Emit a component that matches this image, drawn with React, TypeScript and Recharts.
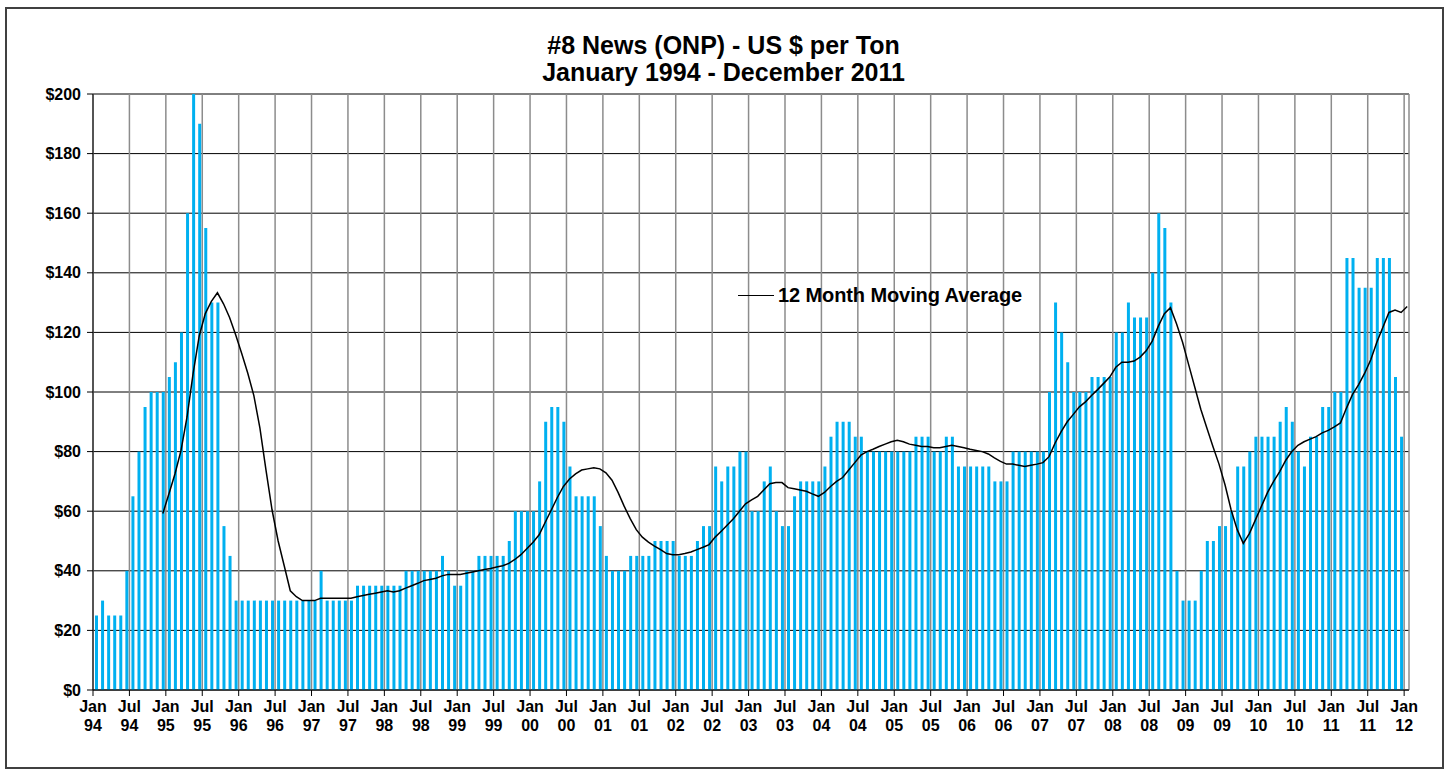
import React from 'react';
import { ComposedChart, Bar, Line, XAxis, YAxis, CartesianGrid } from 'recharts';

const FONT = '"Liberation Sans", Arial, sans-serif';

const months = ['Jan', 'Feb', 'Mar', 'Apr', 'May', 'Jun', 'Jul', 'Aug', 'Sep', 'Oct', 'Nov', 'Dec'];
const years = ['94', '95', '96', '97', '98', '99', '00', '01', '02', '03', '04', '05', '06', '07', '08', '09', '10', '11'];

// monthly price, US $ per ton
const price94 = [25, 30, 25, 25, 25, 40, 65, 80, 95, 100, 100, 100];
const price95 = [105, 110, 120, 160, 200, 190, 155, 130, 130, 55, 45, 30];
const price96 = [30, 30, 30, 30, 30, 30, 30, 30, 30, 30, 30, 30];
const price97 = [30, 40, 30, 30, 30, 30, 30, 35, 35, 35, 35, 35];
const price98 = [35, 35, 35, 40, 40, 40, 40, 40, 40, 45, 40, 35];
const price99 = [35, 40, 40, 45, 45, 45, 45, 45, 50, 60, 60, 60];
const price00 = [60, 70, 90, 95, 95, 90, 75, 65, 65, 65, 65, 55];
const price01 = [45, 40, 40, 40, 45, 45, 45, 45, 50, 50, 50, 50];
const price02 = [45, 45, 45, 50, 55, 55, 75, 70, 75, 75, 80, 80];
const price03 = [60, 60, 70, 75, 60, 55, 55, 65, 70, 70, 70, 70];
const price04 = [75, 85, 90, 90, 90, 85, 85, 80, 80, 80, 80, 80];
const price05 = [80, 80, 80, 85, 85, 85, 80, 80, 85, 85, 75, 75];
const price06 = [75, 75, 75, 75, 70, 70, 70, 80, 80, 80, 80, 80];
const price07 = [80, 100, 130, 120, 110, 100, 100, 100, 105, 105, 105, 105];
const price08 = [120, 120, 130, 125, 125, 125, 140, 160, 155, 130, 40, 30];
const price09 = [30, 30, 40, 50, 50, 55, 55, 60, 75, 75, 80, 85];
const price10 = [85, 85, 85, 90, 95, 90, 80, 75, 85, 85, 95, 95];
const price11 = [100, 100, 145, 145, 135, 135, 135, 145, 145, 145, 105, 85];

// 12 month moving average line
const avg94 = [null, null, null, null, null, null, null, null, null, null, null, 59.2];
const avg95 = [65.8, 72.5, 80.4, 91.7, 106.3, 118.8, 126.3, 130.4, 133.3, 129.6, 125.0, 119.2];
const avg96 = [112.9, 106.3, 98.8, 87.9, 73.8, 60.4, 50.0, 41.7, 33.3, 31.3, 30.0, 30.0];
const avg97 = [30.0, 30.8, 30.8, 30.8, 30.8, 30.8, 30.8, 31.3, 31.7, 32.1, 32.5, 32.9];
const avg98 = [33.3, 32.9, 33.3, 34.2, 35.0, 35.8, 36.7, 37.1, 37.5, 38.3, 38.8, 38.8];
const avg99 = [38.8, 39.2, 39.6, 40.0, 40.4, 40.8, 41.3, 41.7, 42.5, 43.8, 45.4, 47.5];
const avg00 = [49.6, 52.1, 56.3, 60.4, 64.6, 68.3, 70.8, 72.5, 73.8, 74.2, 74.6, 74.2];
const avg01 = [72.9, 70.4, 66.3, 61.7, 57.5, 53.8, 51.3, 49.6, 48.3, 47.1, 45.8, 45.4];
const avg02 = [45.4, 45.8, 46.3, 47.1, 47.9, 48.8, 51.3, 53.3, 55.4, 57.5, 60.0, 62.5];
const avg03 = [63.8, 65.0, 67.1, 69.2, 69.6, 69.6, 67.9, 67.5, 67.1, 66.7, 65.8, 65.0];
const avg04 = [66.3, 68.3, 70.0, 71.3, 73.8, 76.3, 78.8, 80.0, 80.8, 81.7, 82.5, 83.3];
const avg05 = [83.8, 83.3, 82.5, 82.1, 81.7, 81.7, 81.3, 81.3, 81.7, 82.1, 81.7, 81.3];
const avg06 = [80.8, 80.4, 80.0, 79.2, 77.9, 76.7, 75.8, 75.8, 75.4, 75.0, 75.4, 75.8];
const avg07 = [76.3, 78.3, 82.9, 86.7, 90.0, 92.5, 95.0, 96.7, 98.8, 100.8, 102.9, 105.0];
const avg08 = [108.3, 110.0, 110.0, 110.4, 111.7, 113.8, 117.1, 122.1, 126.3, 128.3, 122.9, 116.7];
const avg09 = [109.2, 101.7, 94.2, 87.9, 81.7, 75.8, 68.8, 60.4, 53.8, 49.2, 52.5, 57.1];
const avg10 = [61.7, 66.3, 70.0, 73.3, 77.1, 80.0, 82.1, 83.3, 84.2, 85.0, 86.3, 87.1];
const avg11 = [88.3, 89.6, 94.6, 99.2, 102.5, 106.3, 110.8, 116.7, 121.7, 126.7, 127.5, 126.7];
const avgJan12 = 128.7;

const yTicks = [0, 20, 40, 60, 80, 100, 120, 140, 160, 180, 200];
const xTickLabels = [
  'Jan 94', 'Jul 94', 'Jan 95', 'Jul 95', 'Jan 96', 'Jul 96', 'Jan 97', 'Jul 97', 'Jan 98', 'Jul 98',
  'Jan 99', 'Jul 99', 'Jan 00', 'Jul 00', 'Jan 01', 'Jul 01', 'Jan 02', 'Jul 02', 'Jan 03', 'Jul 03',
  'Jan 04', 'Jul 04', 'Jan 05', 'Jul 05', 'Jan 06', 'Jul 06', 'Jan 07', 'Jul 07', 'Jan 08', 'Jul 08',
  'Jan 09', 'Jul 09', 'Jan 10', 'Jul 10', 'Jan 11', 'Jul 11', 'Jan 12',
];

const prices = [price94, price95, price96, price97, price98, price99, price00, price01, price02,
  price03, price04, price05, price06, price07, price08, price09, price10, price11];
const averages = [avg94, avg95, avg96, avg97, avg98, avg99, avg00, avg01, avg02,
  avg03, avg04, avg05, avg06, avg07, avg08, avg09, avg10, avg11];

// t = month index, bar sits in the middle of its month
const data: any[] = [];
years.forEach((yr, yi) => {
  months.forEach((mo, mi) => {
    data.push({ month: mo + ' ' + yr, t: yi * 12 + mi + 0.5, price: prices[yi][mi], avg: averages[yi][mi] });
  });
});
data.push({ month: 'Jan 12', t: 216.5, price: null, avg: avgJan12 });

const xTicks = xTickLabels.map((_, i) => i * 6);

function MonthTick({ x, y, payload }: any) {
  const label = xTickLabels[Math.round(payload.value / 6)] || '';
  const [mo, yr] = label.split(' ');
  return (
    <text x={x} y={y} textAnchor="middle" fill="#000" fontSize={16} fontWeight="bold" fontFamily={FONT}>
      <tspan x={x} dy={14}>{mo}</tspan>
      <tspan x={x} dy={19}>{yr}</tspan>
    </text>
  );
}

export default function App() {
  return (
    <div style={{ position: 'absolute', left: 0, top: 0, width: 1447, height: 774, background: '#fff' }}>
      <div
        style={{
          position: 'absolute',
          left: 5,
          top: 7,
          width: 1439,
          height: 762,
          boxSizing: 'border-box',
          border: '2px solid #404040',
        }}
      />
      <div
        style={{
          position: 'absolute',
          left: 0,
          width: 1447,
          top: 32,
          textAlign: 'center',
          fontFamily: FONT,
          fontWeight: 'bold',
          fontSize: 25,
          lineHeight: '27px',
          color: '#000',
        }}
      >
        <div>#8 News (ONP) - US $ per Ton</div>
        <div>January 1994 - December 2011</div>
      </div>
      <div style={{ position: 'absolute', left: 0, top: 0 }}>
        <ComposedChart
          width={1447}
          height={774}
          data={data}
          margin={{ top: 94, right: 38, bottom: 40, left: 0 }}
        >
          <CartesianGrid vertical={false} stroke="#000" strokeWidth={1} />
          <CartesianGrid horizontal={false} stroke="#8c8c8c" strokeWidth={1.5} />
          <XAxis
            dataKey="t"
            type="number"
            domain={[0, 216.8]}
            ticks={xTicks}
            interval={0}
            height={44}
            tickSize={6}
            tickMargin={2}
            axisLine={{ stroke: '#000' }}
            tickLine={{ stroke: '#000' }}
            tick={<MonthTick />}
          />
          <YAxis
            domain={[0, 200]}
            ticks={yTicks}
            interval={0}
            width={93}
            tickSize={6}
            tickMargin={6}
            tickFormatter={(v: number) => '$' + v}
            axisLine={{ stroke: '#000' }}
            tickLine={{ stroke: '#000' }}
            tick={{ fill: '#000', fontSize: 16, fontWeight: 'bold', fontFamily: FONT }}
          />
          <Bar dataKey="price" fill="#00B0F0" barSize={3} isAnimationActive={false} />
          <Line
            dataKey="avg"
            type="linear"
            stroke="#000"
            strokeWidth={1.5}
            dot={false}
            isAnimationActive={false}
          />
        </ComposedChart>
      </div>
      <div
        style={{
          position: 'absolute',
          left: 738,
          top: 284,
          display: 'flex',
          alignItems: 'center',
          fontFamily: FONT,
          fontWeight: 'bold',
          fontSize: 20,
          letterSpacing: -0.1,
          color: '#000',
          whiteSpace: 'nowrap',
        }}
      >
        <div style={{ width: 36, height: 0, borderTop: '1.5px solid #000', marginRight: 4 }} />
        <span>12 Month Moving Average</span>
      </div>
    </div>
  );
}
